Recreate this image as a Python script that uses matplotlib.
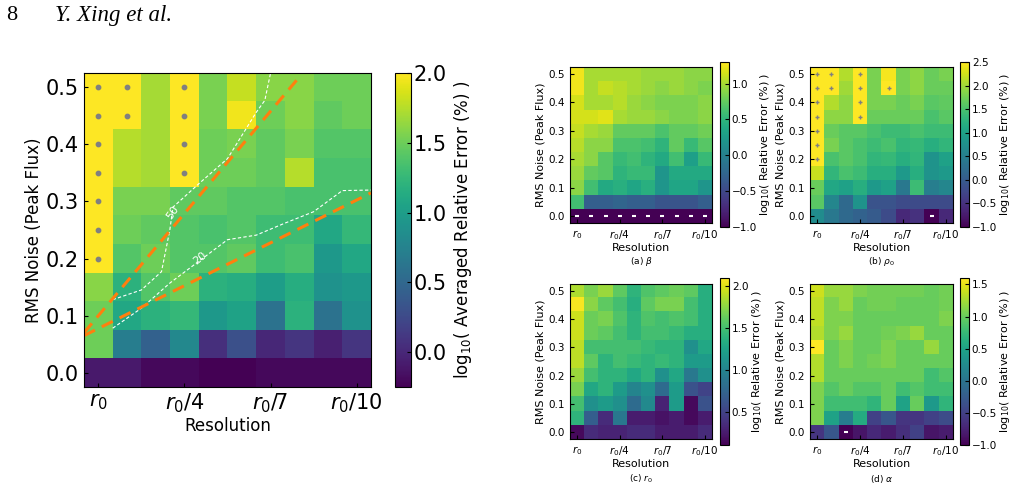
import matplotlib
matplotlib.use("Agg")
import matplotlib.pyplot as plt
import numpy as np

res_labels = [r"$r_0$", r"$r_0/4$", r"$r_0/7$", r"$r_0/10$"]
res_ticks = [0, 3, 6, 9]
noise = [0.0, 0.05, 0.1, 0.15, 0.2, 0.25, 0.3, 0.35, 0.4, 0.45, 0.5]

main = [
 [-0.1,-0.1,-0.2,-0.2,-0.25,-0.25,-0.2,-0.2,-0.2,-0.2],
 [1.5,0.7,0.45,0.8,0.05,0.3,0.0,0.1,-0.05,0.1],
 [1.5,1.1,1.2,1.25,0.95,1.05,0.6,1.2,0.6,0.9],
 [1.6,1.2,1.4,1.5,1.2,1.15,1.0,1.15,0.9,0.95],
 [2.3,1.4,1.5,1.4,1.4,1.45,1.3,1.35,0.95,1.1],
 [2.3,1.5,1.45,1.4,1.35,1.4,1.3,1.3,1.1,1.25],
 [2.3,1.55,1.55,1.45,1.45,1.4,1.4,1.35,1.35,1.35],
 [2.3,1.75,1.7,2.3,1.5,1.5,1.45,1.75,1.35,1.35],
 [2.3,1.75,1.7,2.3,1.5,1.55,1.45,1.55,1.4,1.4],
 [2.3,2.3,1.7,2.3,1.55,1.95,1.5,1.6,1.45,1.5],
 [2.3,2.3,1.7,2.3,1.55,1.8,1.6,1.6,1.5,1.5]]

beta = [
 [-1.2]*10,
 [0.6,-0.3,-0.3,-0.25,-0.3,-0.3,-0.4,-0.4,-0.4,-0.3],
 [0.9,0.6,0.4,0.45,0.35,0.45,0.2,0.35,0.35,0.2],
 [0.95,0.75,0.7,0.5,0.55,0.55,0.2,0.4,0.4,0.4],
 [1.0,0.9,0.7,0.55,0.6,0.5,0.4,0.6,0.3,0.55],
 [1.05,0.9,0.9,0.65,0.65,0.6,0.5,0.75,0.55,0.7],
 [1.1,1.0,0.95,0.75,0.75,0.75,0.65,0.75,0.75,0.8],
 [1.15,1.15,1.2,1.0,0.95,0.95,0.9,0.85,0.85,0.9],
 [1.15,1.0,1.0,1.05,0.95,0.9,0.85,0.85,0.85,0.9],
 [1.25,1.0,1.1,1.05,1.0,0.95,0.9,0.95,0.9,0.85],
 [1.25,1.0,1.0,1.0,1.0,0.95,0.95,0.95,0.9,0.9]]

rho0 = [
 [0.7,0.4,0.2,0.1,0.0,-0.2,-0.6,-0.5,-1.3,-0.6],
 [1.6,0.6,0.2,0.8,-0.1,-0.1,-0.2,-0.2,-0.2,-0.2],
 [1.7,1.1,1.0,1.2,0.9,1.0,0.4,1.4,0.5,0.6],
 [2.2,1.3,1.5,1.4,1.2,1.2,0.9,1.2,0.8,0.9],
 [2.7,1.5,1.6,1.5,1.3,1.35,1.2,1.3,0.8,1.0],
 [2.7,1.8,1.6,1.5,1.4,1.5,1.3,1.35,1.2,1.3],
 [2.7,1.7,1.6,1.6,1.5,1.4,1.4,1.5,1.4,1.4],
 [2.7,1.9,1.9,2.7,1.7,1.7,1.7,1.7,1.5,1.6],
 [2.7,2.1,1.9,2.7,1.8,1.8,1.7,1.8,1.6,1.65],
 [2.7,2.7,2.0,2.7,1.8,2.7,1.8,1.9,1.7,1.7],
 [2.7,2.7,2.1,2.7,1.8,2.45,1.8,1.9,1.7,1.8]]

r0 = [
 [0.15,0.35,0.3,0.3,0.35,0.35,0.25,0.25,0.25,0.35],
 [1.4,0.7,0.35,0.9,0.25,0.25,0.2,0.25,0.15,0.25],
 [1.5,1.1,1.2,1.1,0.8,1.05,0.3,1.2,0.15,0.6],
 [1.7,1.3,1.4,1.2,1.0,1.1,0.8,1.2,0.6,0.5],
 [1.8,1.5,1.4,1.4,1.3,1.4,1.1,1.3,0.9,1.1],
 [1.9,1.6,1.4,1.5,1.45,1.4,1.45,1.4,1.2,1.2],
 [1.9,1.5,1.5,1.5,1.5,1.45,1.4,1.4,1.1,1.3],
 [1.95,1.65,1.6,1.5,1.4,1.5,1.5,1.45,1.35,1.35],
 [1.95,1.65,1.7,1.55,1.4,1.55,1.5,1.55,1.5,1.35],
 [2.08,1.75,1.6,1.5,1.35,1.6,1.7,1.7,1.5,1.35],
 [1.85,1.7,1.8,1.6,1.4,1.55,1.6,1.65,1.6,1.35]]

alpha = [
 [-0.6,-0.3,-1.2,-0.85,-0.7,-0.8,-0.65,-0.5,-0.85,-0.8],
 [1.1,0.5,0.1,0.6,-0.5,-0.3,-0.6,-0.6,-0.5,-0.4],
 [1.1,0.8,0.8,0.8,0.7,1.0,0.5,1.0,0.4,0.7],
 [1.1,0.9,1.0,0.9,0.9,1.0,0.8,0.9,0.8,0.8],
 [1.3,1.0,1.0,1.0,1.0,1.0,1.0,1.0,0.8,0.9],
 [1.3,1.0,1.1,1.0,1.05,1.1,1.0,1.0,1.0,1.0],
 [1.6,1.0,1.1,1.0,1.0,1.1,1.0,1.0,1.2,1.0],
 [1.3,1.1,1.2,1.0,1.0,1.05,1.1,1.2,1.0,1.0],
 [1.35,1.1,1.1,1.0,1.0,1.0,1.0,1.0,1.0,1.1],
 [1.35,1.1,1.2,1.0,1.05,1.05,1.0,1.0,1.0,1.05],
 [1.4,1.2,1.2,1.1,1.05,1.05,1.05,1.05,1.0,1.05]]

# contour lines (resolution index, noise) for 50% and 20%
c50_x = [0.5, 1.5, 2.2, 2.49, 2.6, 3.5, 4.5, 5.5, 5.8, 6.0]
c50_y = [0.128, 0.145, 0.177, 0.25, 0.29, 0.331, 0.375, 0.456, 0.477, 0.525]
c20_x = [0.5, 1.5, 2.49, 4.5, 5.5, 6.5, 7.5, 8.5, 9.5]
c20_y = [0.078, 0.113, 0.157, 0.233, 0.241, 0.262, 0.282, 0.319, 0.32]
# linear fits: noise = a + b * index
fit1 = (0.0999, 0.0597, 6.95)
fit2 = (0.0775, 0.025, 9.5)

W, H = 1018, 490
fig = plt.figure(figsize=(W/100, H/100), dpi=100)

def rect(x0, y0, x1, y1):
    return [x0/W, 1-y1/H, (x1-x0)/W, (y1-y0)/H]

def panel(ax, cax, data, vmin, vmax, cticks, label, fs_tick, fs_lab, hi_marker, ms, cpad=4):
    d = np.array(data)
    nx = d.shape[1]
    im = ax.imshow(d, origin="lower", cmap="viridis", vmin=vmin, vmax=vmax, aspect="auto",
                   extent=[-0.5, nx-0.5, -0.025, 0.525])
    xs, ys = np.meshgrid(np.arange(nx), np.array(noise))
    hi = d > vmax
    lo = d < vmin
    ax.scatter(xs[hi], ys[hi], marker=hi_marker, c="#808080", s=ms, zorder=3, linewidths=1)
    ax.scatter(xs[lo], ys[lo], marker="_", c="white", s=ms*1.5, zorder=3, linewidths=1.5)
    ax.set_xticks(res_ticks)
    ax.set_xticklabels(res_labels, fontsize=fs_tick)
    ax.set_yticks([0, 0.1, 0.2, 0.3, 0.4, 0.5])
    ax.set_yticklabels(["0.0", "0.1", "0.2", "0.3", "0.4", "0.5"], fontsize=fs_tick)
    ax.tick_params(direction="in", length=3)
    ax.set_xlim(-0.5, nx-0.5); ax.set_ylim(-0.025, 0.525)
    ax.set_xlabel("Resolution", fontsize=fs_lab, labelpad=1)
    ax.set_ylabel("RMS Noise (Peak Flux)", fontsize=fs_lab, labelpad=2)
    cb = fig.colorbar(im, cax=cax)
    cb.set_ticks(cticks)
    cb.ax.tick_params(direction="in", labelsize=fs_tick, length=3, pad=2)
    cb.set_label(label, fontsize=fs_lab, labelpad=cpad)
    return ax

fig.text(6/W, 1-16/H, "8", fontsize=16, family="Liberation Serif", va="center")
fig.text(55/W, 1-16/H, "Y. Xing et al.", fontsize=16.5, family="Liberation Serif", style="italic", va="center")

ax = fig.add_axes(rect(84, 73, 371, 387))
cax = fig.add_axes(rect(395, 73, 411, 387))
panel(ax, cax, main, -0.25, 2.0, [0.0, 0.5, 1.0, 1.5, 2.0],
      r"log$_{10}$( Averaged Relative Error (%) )", 15, 12, "o", 10)
ax.plot(c50_x, c50_y, "--", color="white", lw=0.8, dashes=(3, 2))
ax.plot(c20_x, c20_y, "--", color="white", lw=0.8, dashes=(3, 2))
ax.text(2.6, 0.28, "50", color="white", fontsize=8, rotation=55, ha="center", va="center")
ax.text(3.55, 0.2, "20", color="white", fontsize=8, rotation=38, ha="center", va="center")
for a, b, xe in (fit1, fit2):
    xx = np.array([-0.5, xe])
    ax.plot(xx, a + b*xx, "--", color="#ff7f0e", lw=2.2, dashes=(4, 2.5))
ax.set_xlim(-0.5, 9.5); ax.set_ylim(-0.025, 0.525)

small = [
    ((570, 67, 712, 223), (720, 62, 729, 227), beta, -1.0, 1.3, [-1.0, -0.5, 0.0, 0.5, 1.0], r"(a) $\beta$", 261),
    ((810, 67, 953, 223), (960, 62, 969, 227), rho0, -1.0, 2.5, [-1.0, -0.5, 0, 0.5, 1.0, 1.5, 2.0, 2.5], r"(b) $\rho_0$", 261),
    ((570, 284, 712, 439), (720, 278, 729, 445), r0, 0.1, 2.1, [0.5, 1.0, 1.5, 2.0], r"(c) $r_0$", 479),
    ((810, 284, 953, 439), (960, 278, 969, 445), alpha, -1.0, 1.6, [-1.0, -0.5, 0, 0.5, 1.0, 1.5], r"(d) $\alpha$", 479),
]
for r, c, d, vmin, vmax, ct, cap, cy in small:
    a = fig.add_axes(rect(*r))
    ca = fig.add_axes(rect(*c))
    panel(a, ca, d, vmin, vmax, ct, r"log$_{10}$( Relative Error (%) )", 7.5, 8, "+", 8, cpad=1)
    fig.text((r[0]+r[2])/2/W, 1-cy/H, cap, fontsize=6.5, ha="center", va="center")

fig.savefig("out.png", dpi=100)
